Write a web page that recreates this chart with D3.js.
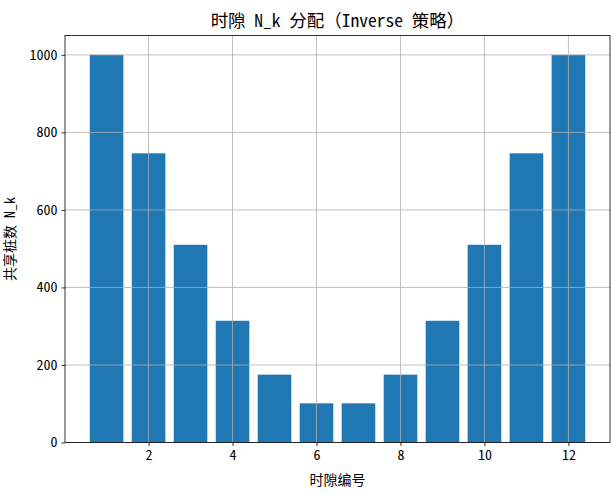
<!DOCTYPE html>
<html><head><meta charset="utf-8">
<script src="https://cdn.jsdelivr.net/npm/d3@7"></script>
<style>body{margin:0;background:#fff}svg{display:block}text{font-family:"Noto Sans Mono CJK SC","Noto Sans CJK SC",sans-serif}</style>
</head><body>
<script>
const slots = [1,2,3,4,5,6,7,8,9,10,11,12];
const values = [1000,746,510,314,175,101,101,175,314,510,746,1000];
const xTicks = [2,4,6,8,10,12];
const yTicks = [0,200,400,600,800,1000];
const title = "时隙 N_k 分配（Inverse 策略）";
const xLabel = "时隙编号";
const yLabel = "共享桩数 N_k";

const W=613,H=494, L=65, R=610, T=35.5, B=442.5;
const FONT='"Noto Sans Mono CJK SC","Noto Sans CJK SC",sans-serif';
const svg=d3.select("body").append("svg").attr("width",W).attr("height",H);
const x=d3.scaleLinear().domain([0.01,12.99]).range([L,R]);
const y=d3.scaleLinear().domain([0,1050]).range([B,T]);

svg.append("g").selectAll("rect").data(slots).join("rect")
  .attr("x",d=>x(d-0.4)).attr("width",d=>x(d+0.4)-x(d-0.4))
  .attr("y",(d,i)=>y(values[i])).attr("height",(d,i)=>y(0)-y(values[i]))
  .attr("fill","#1f77b4");

const grid=svg.append("g").attr("stroke","#b0b0b0").attr("stroke-width",0.8);
xTicks.forEach(t=>grid.append("line").attr("x1",x(t)).attr("x2",x(t)).attr("y1",T).attr("y2",B));
yTicks.forEach(t=>grid.append("line").attr("x1",L).attr("x2",R).attr("y1",y(t)).attr("y2",y(t)));

const xa=svg.append("g").attr("transform",`translate(0,${B})`)
  .call(d3.axisBottom(x).tickValues(xTicks).tickFormat(d3.format("d")).tickSize(3.5).tickPadding(4));
const ya=svg.append("g").attr("transform",`translate(${L},0)`)
  .call(d3.axisLeft(y).tickValues(yTicks).tickFormat(d3.format("d")).tickSize(3.5).tickPadding(4));
[xa,ya].forEach(a=>{a.select(".domain").remove();a.selectAll("text").attr("font-size",14).attr("fill","#000").style("font-family",FONT);a.selectAll("line").attr("stroke","#000").attr("stroke-width",0.8);});

svg.append("rect").attr("x",L).attr("y",T).attr("width",R-L).attr("height",B-T)
  .attr("fill","none").attr("stroke","#000").attr("stroke-width",0.8);

svg.append("text").attr("x",(L+R)/2).attr("y",27).attr("text-anchor","middle").attr("font-size",17.5).text(title);
svg.append("text").attr("x",(L+R)/2).attr("y",485).attr("text-anchor","middle").attr("font-size",14).text(xLabel);
svg.append("text").attr("transform",`translate(15,${(T+B)/2}) rotate(-90)`).attr("text-anchor","middle").attr("font-size",14).text(yLabel);
</script>
</body></html>
